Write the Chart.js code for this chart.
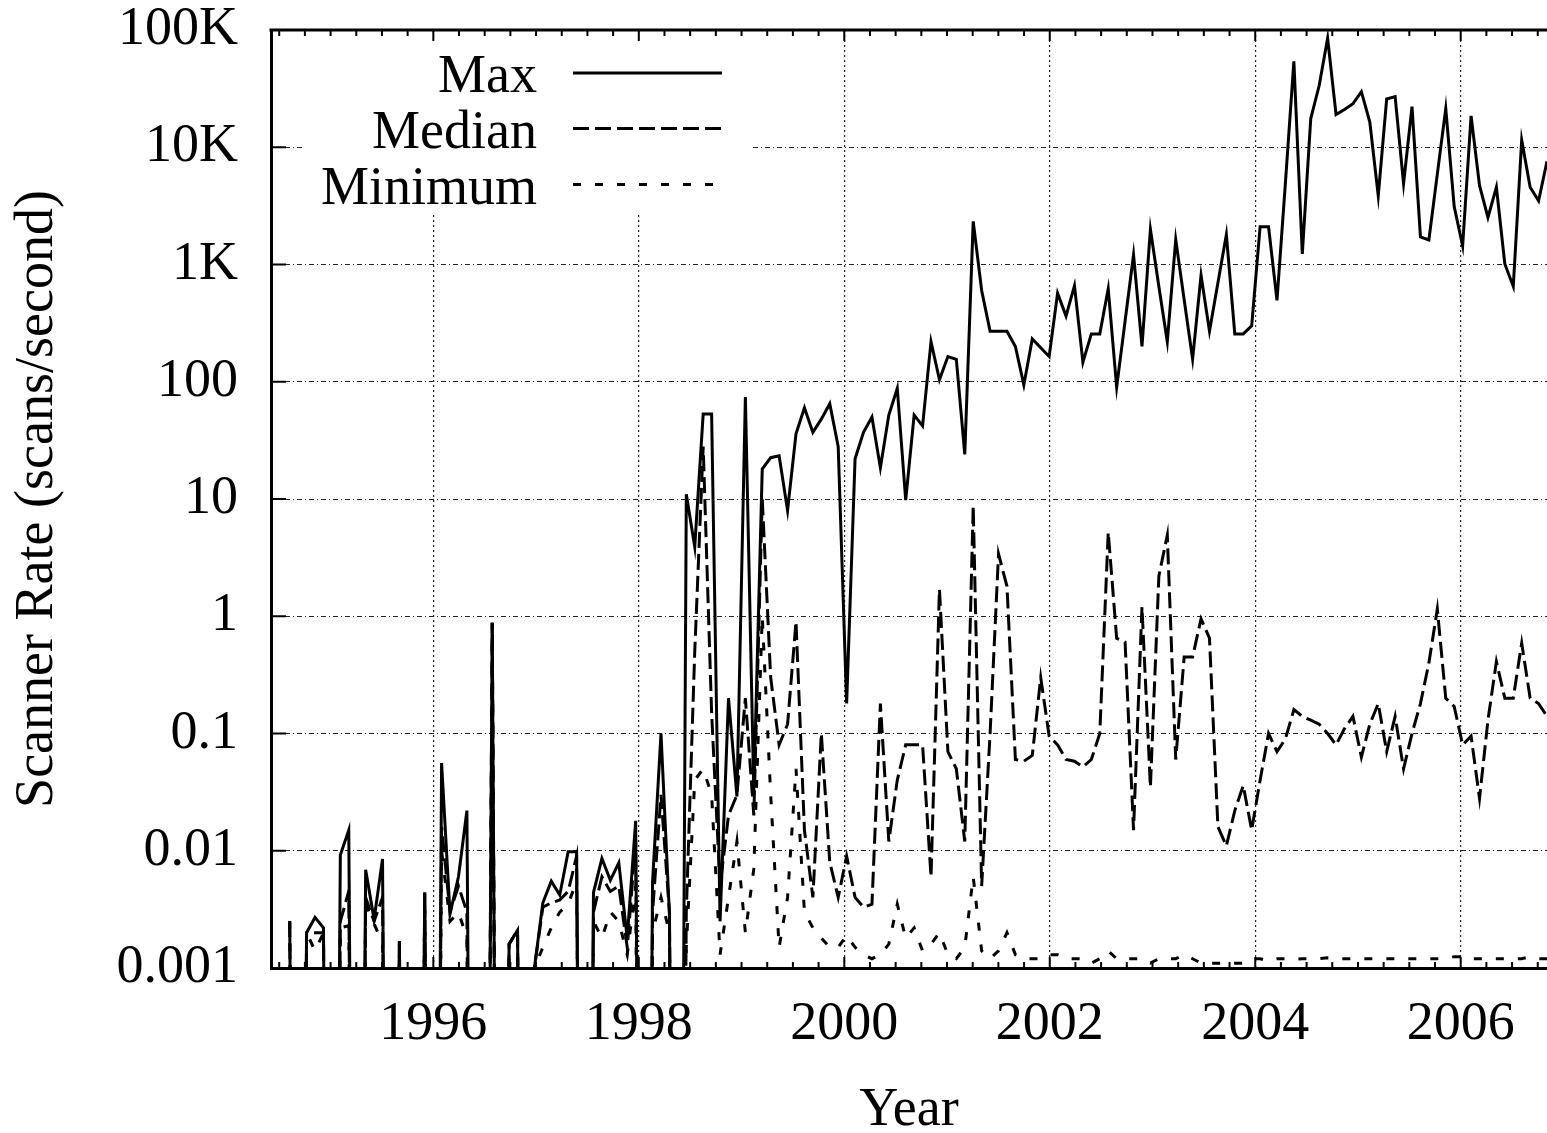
<!DOCTYPE html>
<html>
<head>
<meta charset="utf-8">
<script src="https://cdn.jsdelivr.net/npm/chart.js@4.4.1/dist/chart.umd.min.js"></script>
<style>
  html, body { margin: 0; padding: 0; background: #fff; }
  canvas { display: block; }
</style>
</head>
<body>
<canvas id="rateChart" width="1547" height="1133"></canvas>
<script>
// =========================
// Data: one value per 30-day bin, first bin Aug 1994
// =========================
const Z = 1e-12; // bin with no scans -> falls below the axis
const firstBinYear = 1994.602;
const binDays = 30;

const maxRate = [
  0.0025, Z, 0.002, 0.0027, 0.0022, Z, 0.0092, 0.015, Z, 0.0069,
  0.0026, 0.0085, Z, 0.0017, Z, Z, 0.0044, Z, 0.056, 0.0029,
  0.006, 0.022, Z, Z, 0.88, Z, 0.0016, 0.0021, Z, 0.001,
  0.0036, 0.0055, 0.0042, 0.0098, 0.0098, Z, 0.0044, 0.0086, 0.0056, 0.0079,
  0.0018, 0.018, Z, 0.0054, 0.10, 0.0029, Z, 11, 3.9, 53,
  53, 0.0025, 0.2, 0.029, 74, 0.032, 18, 22.5, 23.4, 8,
  36, 60, 37, 48, 65, 28, 0.18, 22, 37, 50,
  18.5, 52, 88, 9.8, 52, 42, 220, 104, 164, 155,
  24, 2330, 600, 270, 270, 270, 200, 94, 232, 195,
  164, 570, 363, 660, 147, 256, 256, 620, 90, 330,
  1210, 200, 2000, 650, 220, 1630, 500, 156, 810, 270,
  700, 1800, 256, 256, 300, 2100, 2100, 494, 5000, 54000,
  1230, 17500, 33600, 85000, 19000, 21000, 23500, 29800, 16400, 3860,
  25800, 27000, 4900, 22200, 1720, 1620, 5900, 21400, 3120, 1440,
  18500, 4730, 2520, 4570, 1010, 650, 11500, 4560, 3500, 7600
];

const medianRate = [
  0.0025, Z, 0.002, 0.002, 0.002, Z, 0.0025, 0.0045, Z, 0.004,
  0.0025, 0.004, Z, 0.0017, Z, Z, 0.0044, Z, 0.016, 0.003,
  0.005, 0.003, Z, Z, 0.88, Z, 0.0016, 0.0021, Z, 0.001,
  0.0033, 0.0036, 0.0038, 0.0045, 0.009, Z, 0.003, 0.006, 0.0045, 0.005,
  0.0015, 0.012, Z, 0.003, 0.03, 0.003, Z, 0.003, 0.5, 28,
  0.15, 0.005, 0.02, 0.03, 0.2, 0.02, 10, 0.3, 0.08, 0.12,
  0.9, 0.015, 0.004, 0.1, 0.008, 0.004, 0.009, 0.004, 0.0033, 0.0035,
  0.18, 0.012, 0.04, 0.08, 0.08, 0.08, 0.006, 1.7, 0.07, 0.05,
  0.012, 8.7, 0.005, 0.1, 3.4, 1.8, 0.06, 0.058, 0.065, 0.3,
  0.095, 0.08, 0.06, 0.058, 0.052, 0.06, 0.1, 5.2, 0.65, 0.6,
  0.015, 1.2, 0.035, 2.2, 4.9, 0.06, 0.45, 0.45, 0.95, 0.65,
  0.016, 0.011, 0.022, 0.036, 0.015, 0.04, 0.1, 0.07, 0.09, 0.16,
  0.14, 0.13, 0.12, 0.1, 0.08, 0.11, 0.14, 0.063, 0.12, 0.18,
  0.07, 0.14, 0.05, 0.1, 0.18, 0.4, 1.15, 0.2, 0.17, 0.08,
  0.095, 0.028, 0.13, 0.41, 0.2, 0.2, 0.59, 0.2, 0.18, 0.14
];

const minRate = [
  0.0025, Z, 0.002, 0.0014, 0.002, Z, 0.0022, 0.0023, Z, 0.0035,
  0.0024, 0.0016, Z, 0.0017, Z, Z, 0.0044, Z, 0.01, 0.0025,
  0.003, 0.0018, Z, Z, 0.88, Z, 0.0016, 0.0021, Z, 0.001,
  0.0015, 0.0022, 0.003, 0.0035, 0.0055, Z, 0.0025, 0.0018, 0.003, 0.0025,
  0.0013, 0.005, Z, 0.002, 0.004, 0.002, Z, 0.0015, 0.04, 0.05,
  0.03, 0.0013, 0.004, 0.012, 0.002, 0.007, 1.0, 0.03, 0.0015, 0.004,
  0.05, 0.003, 0.0022, 0.0018, 0.0015, 0.0015, 0.0019, 0.0015, 0.0013, 0.0012,
  0.0013, 0.0016, 0.0035, 0.0018, 0.0022, 0.0014, 0.0016, 0.002, 0.0013, 0.0012,
  0.0015, 0.006, 0.0014, 0.0012, 0.0014, 0.002, 0.0013, 0.0012, 0.0012, 0.0012,
  0.0013, 0.0013, 0.0012, 0.0012, 0.0012, 0.0011, 0.0012, 0.0014, 0.0012, 0.0012,
  0.0012, 0.0012, 0.0011, 0.0012, 0.0012, 0.0012, 0.0013, 0.0012, 0.0011, 0.0011,
  0.0011, 0.0011, 0.0011, 0.0011, 0.0012, 0.0012, 0.00115, 0.0012, 0.0012, 0.00118,
  0.0012, 0.0012, 0.0012, 0.00122, 0.0012, 0.0012, 0.0012, 0.0012, 0.0012, 0.0012,
  0.0012, 0.0012, 0.0012, 0.0012, 0.0012, 0.0012, 0.0012, 0.0012, 0.00125, 0.00125,
  0.0012, 0.0012, 0.0012, 0.0012, 0.0012, 0.0012, 0.0012, 0.00125, 0.0012, 0.0012
];

const seriesNames = ["Max", "Median", "Minimum"];
const yTicks = [0.001, 0.01, 0.1, 1, 10, 100, 1000, 10000, 100000];
const yTickLabels = ["0.001", "0.01", "0.1", "1", "10", "100", "1K", "10K", "100K"];
const xTicks = [1996, 1998, 2000, 2002, 2004, 2006];

// =========================
// Styles
// =========================
const FONT = '"Liberation Serif", "Times New Roman", serif';
const INK = "#000";
const dashes = [[], [16, 6], [8, 14]];

function toPoints(values) {
  return values.map((v, i) => ({ x: firstBinYear + (i * binDays) / 365.25, y: v }));
}

// legend box, inward tick marks and top frame line (gnuplot look)
const framePlugin = {
  id: "frame",
  afterDraw(chart) {
    const { ctx, chartArea: a, scales } = chart;
    const xs = scales.x, ys = scales.y;
    ctx.save();

    // legend
    ctx.fillStyle = "#fff";
    ctx.fillRect(302, 38, 450, 174);
    ctx.font = "54px " + FONT;
    ctx.fillStyle = INK;
    ctx.textAlign = "right";
    ctx.textBaseline = "alphabetic";
    const rows = [73, 128.5, 184.5];
    seriesNames.forEach((name, i) => {
      ctx.fillText(name, 537, rows[i] + 19);
      ctx.beginPath();
      ctx.lineWidth = 3;
      ctx.strokeStyle = INK;
      ctx.setLineDash(dashes[i]);
      ctx.moveTo(573, rows[i]);
      ctx.lineTo(722, rows[i]);
      ctx.stroke();
    });
    ctx.setLineDash([]);

    // top frame
    ctx.lineWidth = 3;
    ctx.beginPath();
    ctx.moveTo(a.left - 1.5, a.top);
    ctx.lineTo(a.right, a.top);
    ctx.stroke();

    // ticks
    ctx.lineWidth = 2;
    ctx.beginPath();
    for (let q = Math.ceil(xs.min * 4) / 4; q <= xs.max; q += 0.25) {
      const px = xs.getPixelForValue(q);
      const len = xTicks.includes(q) ? 11 : 6;
      ctx.moveTo(px, a.bottom);
      ctx.lineTo(px, a.bottom - len);
      ctx.moveTo(px, a.top);
      ctx.lineTo(px, a.top + len);
    }
    yTicks.forEach((v) => {
      const py = ys.getPixelForValue(v);
      ctx.moveTo(a.left, py);
      ctx.lineTo(a.left + 15, py);
    });
    ctx.stroke();
    ctx.restore();
  },
};

// =========================
// Chart
// =========================
const chartCtx = document.getElementById("rateChart").getContext("2d");

new Chart(chartCtx, {
  type: "line",
  data: {
    datasets: [maxRate, medianRate, minRate].map((values, i) => ({
      label: seriesNames[i],
      data: toPoints(values),
      borderColor: INK,
      borderWidth: 3,
      borderDash: dashes[i],
      pointRadius: 0,
      tension: 0,
      fill: false,
    })),
  },
  options: {
    responsive: false,
    animation: false,
    devicePixelRatio: 1,
    layout: { padding: { top: 30, right: 0, bottom: 0, left: 0 } },
    plugins: { legend: { display: false }, tooltip: { enabled: false } },
    scales: {
      x: {
        type: "linear",
        min: 1994.42,
        max: 2006.84,
        afterBuildTicks: (s) => { s.ticks = xTicks.map((v) => ({ value: v })); },
        afterFit: (s) => { s.height = 165; },
        ticks: {
          font: { family: FONT, size: 54, lineHeight: 1 },
          color: INK,
          padding: 30,
          maxRotation: 0,
          autoSkip: false,
          callback: (v) => String(v),
        },
        grid: { color: "#222", lineWidth: 1.2, drawTicks: false },
        border: { color: INK, width: 3, dash: [2, 3] },
        title: {
          display: true,
          text: "Year",
          color: INK,
          font: { family: FONT, size: 54, lineHeight: 0.83 },
          padding: { top: 0, bottom: 0 },
        },
      },
      y: {
        type: "logarithmic",
        min: 0.001,
        max: 100000,
        afterBuildTicks: (s) => { s.ticks = yTicks.map((v) => ({ value: v })); },
        afterFit: (s) => {
          s.width = 271;
          s.paddingTop = 0;
          s.paddingBottom = 0;
        },
        ticks: {
          font: { family: FONT, size: 54, lineHeight: 1 },
          color: INK,
          padding: 33,
          autoSkip: false,
          callback: (v, i) => yTickLabels[i],
        },
        grid: { color: "#222", lineWidth: 1, drawTicks: false },
        border: { color: INK, width: 3, dash: [5, 3, 1, 3] },
        title: {
          display: true,
          text: "Scanner Rate (scans/second)",
          color: INK,
          font: { family: FONT, size: 54, lineHeight: 1 },
          padding: { top: 11, bottom: 0 },
        },
      },
    },
  },
  plugins: [framePlugin],
});
</script>
</body>
</html>
